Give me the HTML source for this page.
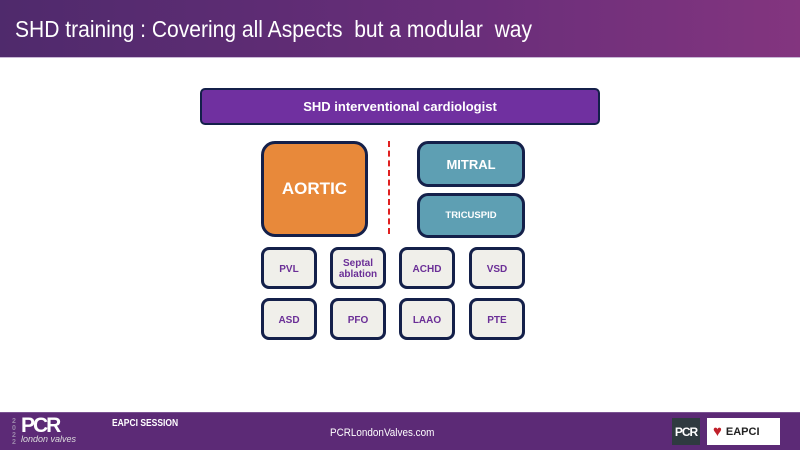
<!DOCTYPE html>
<html><head><meta charset="utf-8"><style>
*{margin:0;padding:0;box-sizing:border-box}
body{width:800px;height:450px;position:relative;background:#fff;font-family:"Liberation Sans",sans-serif;overflow:hidden}
.a{position:absolute}
.hd{left:0;top:0;width:800px;height:58px;background:linear-gradient(90deg,#4f2a6c 0%,#6a2e7a 60%,#83357f 100%);border-bottom:1px solid #c9b8d6}
.title{left:15px;top:16px;color:#fff;font-size:23px;white-space:nowrap;transform:scaleX(0.915);transform-origin:0 0}
.box{position:absolute;border:3px solid #14204a;display:flex;align-items:center;justify-content:center;text-align:center;font-weight:bold}
.sm{background:#f0efea;color:#6b2f97;font-size:10px;border-radius:8px;width:56px;height:42px;line-height:11px;padding-top:2px}
.bl{background:#5e9fb3;color:#fff;border-radius:11px;left:417px;width:108px}
.ft{left:0;top:412px;width:800px;height:38px;background:#5c2a76;border-top:1px solid #7a5292}
</style></head><body>
<div class="a hd"></div>
<div class="a title">SHD training : Covering all Aspects&nbsp; but a modular&nbsp; way</div>

<div class="box" style="left:200px;top:88px;width:400px;height:37px;background:#7030a0;color:#fff;border-radius:5px;border-width:2px;font-size:13px">SHD interventional cardiologist</div>

<div class="box" style="left:261px;top:141px;width:107px;height:96px;background:#e8893a;color:#fff;border-radius:14px;font-size:17px">AORTIC</div>
<div class="a" style="left:388px;top:141px;width:0;height:93px;border-left:2.5px dashed #e02020"></div>
<div class="box bl" style="top:141px;height:46px;font-size:13px">MITRAL</div>
<div class="box bl" style="top:193px;height:45px;font-size:9.5px">TRICUSPID</div>

<div class="box sm" style="left:261px;top:247px">PVL</div>
<div class="box sm" style="left:330px;top:247px">Septal<br>ablation</div>
<div class="box sm" style="left:399px;top:247px">ACHD</div>
<div class="box sm" style="left:469px;top:247px">VSD</div>
<div class="box sm" style="left:261px;top:298px">ASD</div>
<div class="box sm" style="left:330px;top:298px">PFO</div>
<div class="box sm" style="left:399px;top:298px">LAAO</div>
<div class="box sm" style="left:469px;top:298px">PTE</div>

<div class="a ft"></div>
<div class="a" style="left:12px;top:418px;color:#9a86aa;font-size:7px;font-weight:bold;line-height:7px;width:8px">2<br>0<br>2<br>2</div>
<div class="a" style="left:21px;top:414px;color:#fff;font-size:21px;font-weight:bold;letter-spacing:-2px">PCR</div>
<div class="a" style="left:21px;top:434px;color:#ddd;font-size:9px;font-style:italic">london valves</div>
<div class="a" style="left:112px;top:418px;color:#fff;font-size:10px;font-weight:bold;transform:scaleX(0.85);transform-origin:0 0">EAPCI SESSION</div>
<div class="a" style="left:330px;top:427px;color:#fff;font-size:11px;transform:scaleX(0.9);transform-origin:0 0">PCRLondonValves.com</div>
<div class="a" style="left:672px;top:418px;width:28px;height:27px;background:#2f3a40;color:#fff;font-size:12px;font-weight:bold;display:flex;align-items:center;justify-content:center;letter-spacing:-1px">PCR</div>
<div class="a" style="left:707px;top:418px;width:73px;height:27px;background:#fff;display:flex;align-items:center;padding-left:6px">
<span style="color:#c0202a;font-size:15px">♥</span><span style="color:#222;font-size:11px;font-weight:bold;margin-left:4px">EAPCI</span></div>
</body></html>
